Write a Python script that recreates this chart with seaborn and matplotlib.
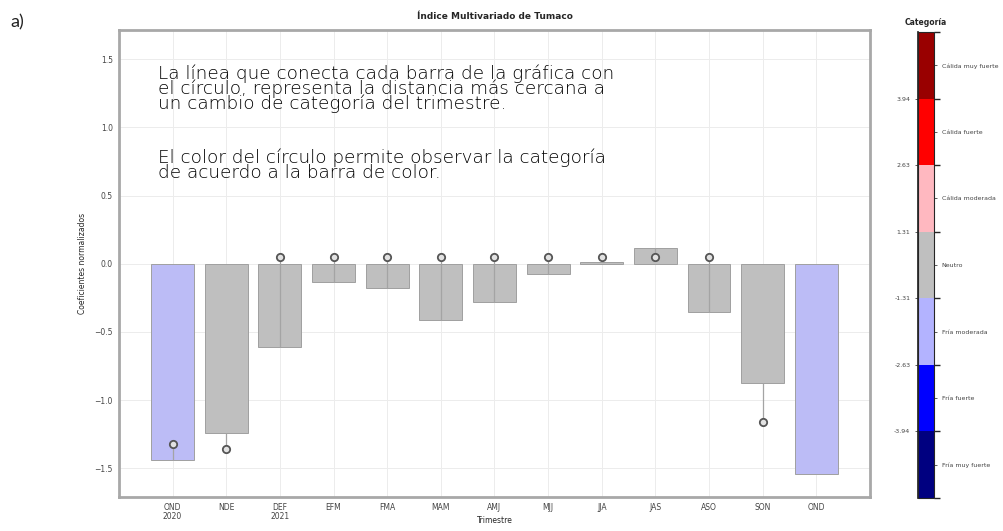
import numpy as np
import matplotlib
matplotlib.use("Agg")
import matplotlib.pyplot as plt
import matplotlib.colors as mcolors
import matplotlib.cm as cm
import seaborn as sns

# Trimestres y coeficientes normalizados del índice
trimestres = ["OND\n2020", "NDE", "DEF\n2021", "EFM", "FMA", "MAM", "AMJ",
              "MJJ", "JJA", "JAS", "ASO", "SON", "OND"]
coeficientes = [-1.436, -1.24, -0.61, -0.13, -0.18, -0.415, -0.28,
                -0.075, 0.015, 0.115, -0.355, -0.875, -1.54]
# Posición del círculo (cambio de categoría más cercano)
circulos = [-1.32, -1.36, 0.05, 0.05, 0.05, 0.05, 0.05,
            0.05, 0.05, 0.05, 0.05, -1.16, np.nan]
categoria_barra = ["Fría moderada", "Neutro", "Neutro", "Neutro", "Neutro",
                   "Neutro", "Neutro", "Neutro", "Neutro", "Neutro",
                   "Neutro", "Neutro", "Fría moderada"]

# Escala de categorías (de abajo hacia arriba)
categorias = ["Fría muy fuerte", "Fría fuerte", "Fría moderada", "Neutro",
              "Cálida moderada", "Cálida fuerte", "Cálida muy fuerte"]
colores_cat = ["#000080", "#0000ff", "#b3b3ff", "#bfbfbf",
               "#ffb8c0", "#ff0000", "#990000"]
limites = ["-3.94", "-2.63", "-1.31", "1.31", "2.63", "3.94"]

color_de = dict(zip(categorias, colores_cat))
paleta = [color_de[c] for c in categoria_barra]

sns.set_theme(style="white")
plt.rcParams["font.family"] = ["DejaVu Sans"]

fig = plt.figure(figsize=(10.04, 5.31), dpi=100)
ax = fig.add_axes([0.1185, 0.064, 0.748, 0.8795])

sns.barplot(x=list(range(len(trimestres))), y=coeficientes,
            hue=list(range(len(trimestres))), palette=paleta, legend=False,
            width=0.8, edgecolor="#a0a0a0", linewidth=0.7, ax=ax, zorder=2)

pos = np.arange(len(trimestres))
ax.vlines(pos, coeficientes, circulos, color="#a4a4a4", lw=0.9, zorder=3)
sns.scatterplot(x=pos, y=circulos, marker="o", s=28, color="#e2e2e2",
                edgecolor="#555555", linewidth=1.3, ax=ax, zorder=4)

ax.set_xlim(-1, 13)
ax.set_ylim(-1.71, 1.714)
ax.set_xticks(pos)
ax.set_xticklabels(trimestres, linespacing=1.0)
ax.set_yticks([-1.5, -1.0, -0.5, 0.0, 0.5, 1.0, 1.5])
ax.tick_params(axis="both", labelsize=5.5, length=2.5, width=0.6,
               colors="#444444", pad=2)
ax.tick_params(axis="x", pad=1.5)
ax.grid(True, color="#ececec", lw=0.7, zorder=0)
ax.set_axisbelow(True)
for s in ax.spines.values():
    s.set_color("#a8a8a8")
    s.set_linewidth(2)
ax.set_title("Índice Multivariado de Tumaco", fontsize=6.5,
             fontweight="bold", pad=8)
ax.set_ylabel("Coeficientes normalizados", fontsize=5.5, labelpad=5)
ax.set_xlabel("Trimestre", fontsize=5.5)
ax.xaxis.set_label_coords(0.5, -0.04)

# Barra de color de categorías
cax = fig.add_axes([0.9143, 0.0621, 0.016, 0.8776])
cmap = mcolors.ListedColormap(colores_cat)
norm = mcolors.BoundaryNorm(np.arange(8), cmap.N)
cb = fig.colorbar(cm.ScalarMappable(norm=norm, cmap=cmap), cax=cax,
                  ticks=np.arange(7) + 0.5)
cb.ax.set_yticklabels(categorias)
cb.ax.tick_params(labelsize=4.5, length=2, width=0.6, colors="#444444")
cb.outline.set_linewidth(0.8)
sec = cax.secondary_yaxis("left")
sec.set_ticks(np.arange(1, 7))
sec.set_yticklabels(limites)
sec.tick_params(labelsize=4.5, length=2, width=0.6, colors="#444444")
cax.set_title("Categoría", fontsize=5.5, fontweight="bold", pad=5)

# Texto explicativo
nota = dict(fontsize=13.2, family=["DejaVu Sans"], fontweight="light",
            color="#000000", va="center", ha="left", linespacing=0.77)
fig.text(0.157, 1 - 89 / 531,
         "La línea que conecta cada barra de la gráfica con\n"
         "el círculo, representa la distancia más cercana a\n"
         "un cambio de categoría del trimestre.", **nota)
fig.text(0.157, 1 - 165.5 / 531,
         "El color del círculo permite observar la categoría\n"
         "de acuerdo a la barra de color.", **nota)

fig.text(0.01, 1 - 22 / 531, "a)", fontsize=13,
         family=["Lato", "DejaVu Sans"], va="center", ha="left",
         color="#222222")

fig.savefig("out.png", dpi=100)
